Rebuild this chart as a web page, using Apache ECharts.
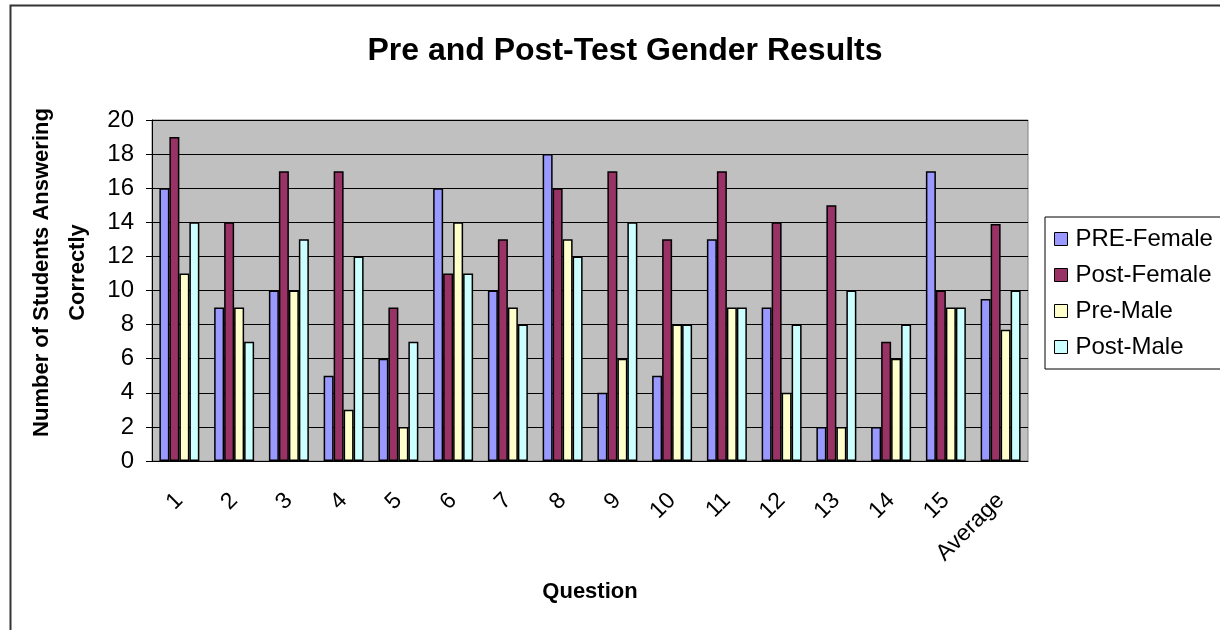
<!DOCTYPE html>
<html>
<head>
<meta charset="utf-8">
<script src="https://cdn.jsdelivr.net/npm/echarts@6/dist/echarts.min.js"></script>
<style>
html, body { margin: 0; padding: 0; background: #fff; }
#chart { width: 1220px; height: 630px; }
</style>
</head>
<body>
<div id="chart"></div>
<script>
// question labels on the x axis
var questions = ['1', '2', '3', '4', '5', '6', '7', '8', '9', '10', '11', '12', '13', '14', '15', 'Average'];

// number of students answering correctly, per question
var preFemale  = [16, 9, 10, 5, 6, 16, 10, 18, 4, 5, 13, 9, 2, 2, 17, 9.5];
var postFemale = [19, 14, 17, 17, 9, 11, 13, 16, 17, 13, 17, 14, 15, 7, 10, 13.9];
var preMale    = [11, 9, 10, 3, 2, 14, 9, 13, 6, 8, 9, 4, 2, 6, 9, 7.7];
var postMale   = [14, 7, 13, 12, 7, 11, 8, 12, 14, 8, 9, 8, 10, 8, 9, 10];

var font = 'Liberation Sans, Arial, sans-serif';

var chart = echarts.init(document.getElementById('chart'));

function barSeries(name, data, color) {
    return {
        name: name,
        type: 'bar',
        data: data,
        barGap: '0%',
        barCategoryGap: '27%',
        itemStyle: {
            color: color,
            borderColor: '#000',
            borderWidth: 1.5
        }
    };
}

var option = {
    backgroundColor: '#fff',
    animation: false,
    textStyle: { fontFamily: font },
    title: {
        text: 'Pre and Post-Test Gender Results',
        left: 620,
        top: 30,
        textAlign: 'center',
        textStyle: {
            fontFamily: font,
            fontSize: 32,
            fontWeight: 'bold',
            color: '#000'
        }
    },
    legend: {
        orient: 'vertical',
        left: 1045,
        top: 217,
        padding: [10, 60, 10, 9],
        itemGap: 12,
        itemWidth: 13,
        itemHeight: 13,
        icon: 'rect',
        borderColor: '#000',
        borderWidth: 1,
        backgroundColor: '#fff',
        itemStyle: { borderColor: '#000', borderWidth: 1 },
        textStyle: { fontFamily: font, fontSize: 24, color: '#000', padding: [0, 0, 0, 3] },
        data: ['PRE-Female', 'Post-Female', 'Pre-Male', 'Post-Male']
    },
    grid: {
        left: 152,
        right: 192,
        top: 120,
        bottom: 169,
        show: true,
        backgroundColor: '#c0c0c0',
        borderColor: '#808080',
        borderWidth: 1
    },
    xAxis: {
        type: 'category',
        data: questions,
        name: 'Question',
        nameLocation: 'middle',
        nameGap: 120,
        nameTextStyle: { fontFamily: font, fontSize: 22, fontWeight: 'bold', color: '#000' },
        axisLine: { lineStyle: { color: '#000', width: 1 } },
        axisTick: { length: 6, lineStyle: { color: '#000' } },
        axisLabel: {
            rotate: 45,
            margin: 36,
            fontFamily: font,
            fontSize: 23,
            color: '#000'
        }
    },
    yAxis: {
        type: 'value',
        min: 0,
        max: 20,
        interval: 2,
        name: 'Number of Students Answering\nCorrectly',
        nameLocation: 'middle',
        nameRotate: 90,
        nameGap: 54,
        nameTextStyle: {
            fontFamily: font,
            fontSize: 22,
            fontWeight: 'bold',
            color: '#000',
            lineHeight: 36,
            align: 'center',
            padding: [0, 0, 0, 36]
        },
        axisLine: { show: true, lineStyle: { color: '#000', width: 1 } },
        axisTick: { show: true, length: 6, lineStyle: { color: '#000' } },
        axisLabel: { margin: 18, fontFamily: font, fontSize: 24, color: '#000' },
        splitLine: { lineStyle: { color: '#000', width: 1 } }
    },
    graphic: [{
        type: 'rect',
        left: 8,
        top: 3,
        shape: { width: 1240, height: 626 },
        style: { fill: 'none', stroke: '#333', lineWidth: 2 },
        silent: true
    }],
    series: [
        barSeries('PRE-Female', preFemale, '#9999ff'),
        barSeries('Post-Female', postFemale, '#993366'),
        barSeries('Pre-Male', preMale, '#ffffcc'),
        barSeries('Post-Male', postMale, '#ccffff')
    ]
};

chart.setOption(option);
</script>
</body>
</html>
